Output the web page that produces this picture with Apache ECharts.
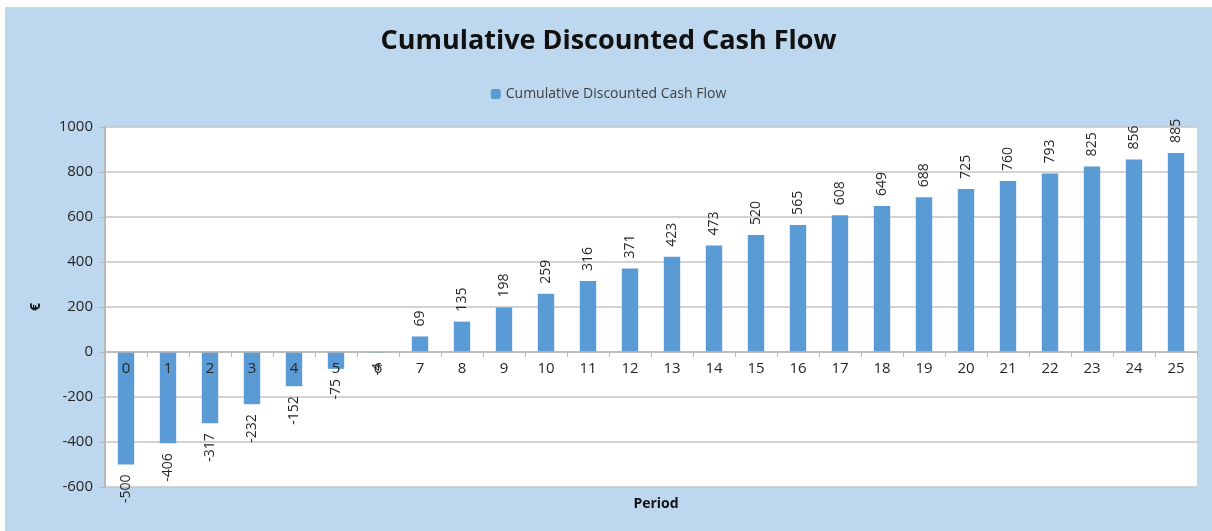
<!DOCTYPE html>
<html>
<head>
<meta charset="utf-8">
<script src="https://cdn.jsdelivr.net/npm/echarts@6/dist/echarts.min.js"></script>
<style>
html, body {
  margin: 0;
  padding: 0;
  width: 1212px;
  height: 531px;
  background: #ffffff;
  overflow: hidden;
}
#main {
  position: absolute;
  left: 5px;
  top: 7px;
  width: 1207px;
  height: 524px;
  background: #bdd7ee;
}
</style>
</head>
<body>
<div id="main"></div>
<script>
// data
const periods = ['0', '1', '2', '3', '4', '5', '6', '7', '8', '9', '10', '11', '12',
  '13', '14', '15', '16', '17', '18', '19', '20', '21', '22', '23', '24', '25'];
const cashFlow = [-500, -406, -317, -232, -152, -75, -4, 69, 135, 198, 259, 316, 371,
  423, 473, 520, 565, 608, 649, 688, 725, 760, 793, 825, 856, 885];
const seriesName = 'Cumulative Discounted Cash Flow';

const font = 'Open Sans';
const textColor = '#262626';

// grid is 360px tall for 1600 units, so zero sits 135px above the bottom edge
const gridBottom = 44;
const zeroOffset = -135;

const myChart = echarts.init(document.getElementById('main'));

const barData = cashFlow.map(function (v) {
  return {
    value: v,
    label: v < 0
      ? { position: 'bottom', align: 'right', distance: 10 }
      : { position: 'top', align: 'left', distance: 10 }
  };
});

const option = {
  animation: false,
  title: [
    {
      text: 'Cumulative Discounted Cash Flow',
      left: 'center',
      top: 16,
      textStyle: { fontFamily: font, fontSize: 27, fontWeight: 'bold', color: '#111' }
    },
    {
      text: 'Period',
      left: 646,
      top: 485,
      textAlign: 'center',
      textStyle: { fontFamily: font, fontSize: 14, fontWeight: 'bold', color: '#111' }
    }
  ],
  legend: {
    data: [seriesName],
    top: 75,
    left: 'center',
    itemWidth: 10,
    itemHeight: 10,
    itemGap: 6,
    textStyle: { fontFamily: font, fontSize: 14, color: '#404040' }
  },
  grid: {
    left: 100, right: 15, top: 120, bottom: gridBottom,
    show: true,
    backgroundColor: '#ffffff',
    borderWidth: 0
  },
  xAxis: {
    type: 'category',
    data: periods,
    position: 'bottom',
    offset: zeroOffset,
    axisLine: { onZero: false, lineStyle: { color: '#b8b8b8', width: 1.5 } },
    axisTick: { show: true, length: 5, lineStyle: { color: '#b8b8b8' } },
    axisLabel: { fontFamily: font, fontSize: 15, color: textColor, margin: 9 },
    z: 5
  },
  yAxis: {
    type: 'value',
    min: -600,
    max: 1000,
    interval: 200,
    name: '€',
    nameLocation: 'middle',
    nameGap: 62,
    nameTextStyle: { fontFamily: font, fontSize: 14, fontWeight: 'bold', color: '#111' },
    axisLine: { show: true, lineStyle: { color: '#b8b8b8', width: 2 } },
    axisTick: { show: true, length: 6, lineStyle: { color: '#b8b8b8' } },
    axisLabel: {
      fontFamily: font, fontSize: 15, color: textColor, margin: 12,
      formatter: function (v) { return String(v); }
    },
    splitLine: { lineStyle: { color: '#c4c4c4', width: 1.5 } }
  },
  series: [
    {
      name: seriesName,
      type: 'bar',
      barWidth: '39%',
      itemStyle: { color: '#5b9bd5' },
      label: {
        show: true,
        rotate: 90,
        verticalAlign: 'middle',
        fontFamily: font,
        fontSize: 14,
        color: textColor
      },
      data: barData
    }
  ]
};

myChart.setOption(option);
</script>
</body>
</html>
